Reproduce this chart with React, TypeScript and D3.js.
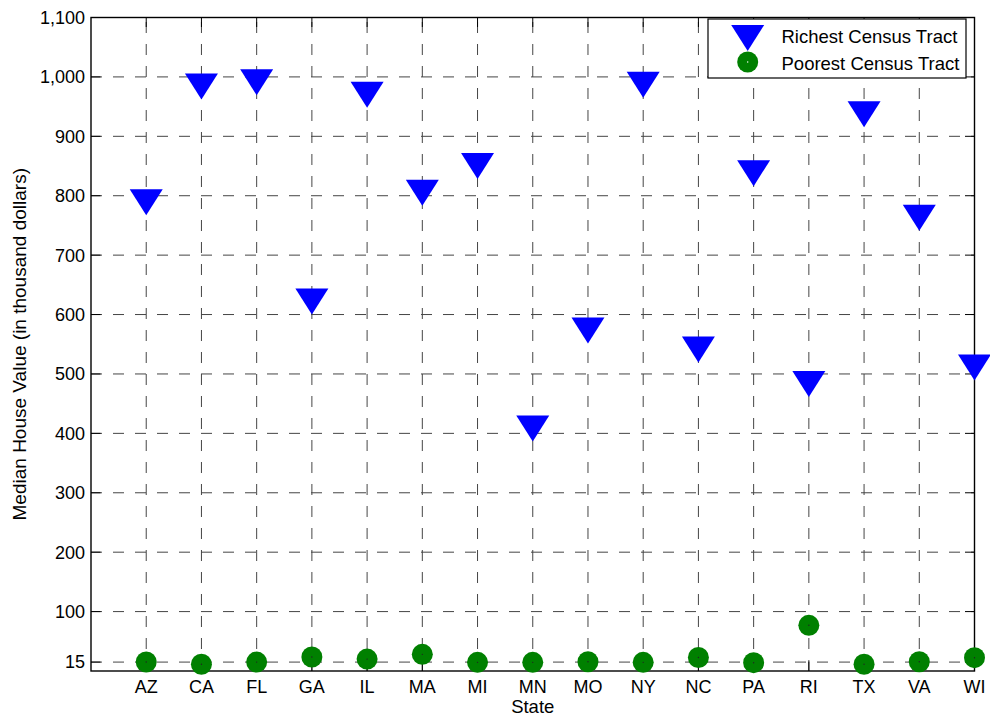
import React from "react";
import * as d3 from "d3";

const states = ["AZ", "CA", "FL", "GA", "IL", "MA", "MI", "MN", "MO", "NY", "NC", "PA", "RI", "TX", "VA", "WI"];
const richest = [789, 984, 991, 622, 970, 805, 850, 408, 573, 987, 541, 838, 483, 937, 763, 511];
const poorest = [15.1, 11.3, 15, 23.5, 20, 28, 14.6, 14.6, 15.6, 14.6, 22.7, 14, 76.9, 11.3, 15.6, 22.4];
const yTicks = [15, 100, 200, 300, 400, 500, 600, 700, 800, 900, 1000, 1100];
const seriesNames = ["Richest Census Tract", "Poorest Census Tract"];

const W = 990;
const H = 723;
const L = 91, R = 974.5, T = 17.5, B = 671;
const FONT = "'Liberation Sans', Arial, Helvetica, sans-serif";

export default function App() {
  const x = d3.scaleLinear().domain([0, states.length]).range([L, R]);
  const y = d3.scaleLinear().domain([0, 1100]).range([B, T]);
  const fmt = d3.format(",");
  const triW = 33, triH = 26;
  const tri = (cx: number, cy: number) =>
    `M${cx - triW / 2},${cy - triH / 2}L${cx + triW / 2},${cy - triH / 2}L${cx},${cy + triH / 2}Z`;
  const tick = 9.5;
  const gridColor = "#454545";
  const dash = "11,11";

  return (
    <div style={{ position: "fixed", left: 0, top: 0 }}>
      <svg width={W} height={H} style={{ display: "block", background: "#fff" }} fontFamily={FONT}>
        <rect x={0} y={0} width={W} height={H} fill="#fff" />
        {/* grid */}
        {yTicks.filter((t) => t < 1100).map((t) => (
          <line key={"gy" + t} x1={L} x2={R} y1={y(t)} y2={y(t)} stroke={gridColor} strokeWidth={1} strokeDasharray={dash} />
        ))}
        {states.slice(0, states.length - 1).map((s, i) => (
          <line key={"gx" + s} x1={x(i + 1)} x2={x(i + 1)} y1={B} y2={T} stroke={gridColor} strokeWidth={1} strokeDasharray={dash} />
        ))}
        {/* ticks */}
        {yTicks.map((t) => (
          <g key={"ty" + t}>
            <line x1={L} x2={L + tick} y1={y(t)} y2={y(t)} stroke="#000" strokeWidth={1} />
            <line x1={R} x2={R - tick} y1={y(t)} y2={y(t)} stroke="#000" strokeWidth={1} />
          </g>
        ))}
        {states.map((s, i) => (
          <g key={"tx" + s}>
            <line x1={x(i + 1)} x2={x(i + 1)} y1={B} y2={B - tick} stroke="#000" strokeWidth={1} />
            <line x1={x(i + 1)} x2={x(i + 1)} y1={T} y2={T + tick} stroke="#000" strokeWidth={1} />
          </g>
        ))}
        {/* axes box */}
        <rect x={L} y={T} width={R - L} height={B - T} fill="none" stroke="#000" strokeWidth={1.4} />
        {/* tick labels */}
        {yTicks.map((t) => (
          <text key={"ly" + t} x={85} y={y(t) + 6.4} textAnchor="end" fontSize={18} fill="#000">
            {fmt(t)}
          </text>
        ))}
        {states.map((s, i) => (
          <text key={"lx" + s} x={x(i + 1)} y={693} textAnchor="middle" fontSize={18} fill="#000">
            {s}
          </text>
        ))}
        <text x={(L + R) / 2} y={713} textAnchor="middle" fontSize={18.5} fill="#000">State</text>
        <text transform={`translate(26,${(T + B) / 2}) rotate(-90)`} textAnchor="middle" fontSize={19} fill="#000">
          Median House Value (in thousand dollars)
        </text>
        {/* markers */}
        {richest.map((v, i) => (
          <path key={"r" + i} d={tri(x(i + 1), y(v))} fill="#0000ff" />
        ))}
        {poorest.map((v, i) => (
          <g key={"p" + i}>
            <circle cx={x(i + 1)} cy={y(v)} r={10.5} fill="#008000" />
            <circle cx={x(i + 1)} cy={y(v)} r={0.7} fill="#222" />
          </g>
        ))}
        {/* legend */}
        <rect x={708} y={19} width={258} height={59} fill="#fff" stroke="#000" strokeWidth={1.2} />
        <path d={tri(747.7, 38)} fill="#0000ff" />
        <circle cx={747.7} cy={62} r={10.5} fill="#008000" />
        <circle cx={747.7} cy={62} r={0.7} fill="#fff" />
        <text x={781.5} y={43.3} fontSize={18.5} fill="#000">{seriesNames[0]}</text>
        <text x={781.5} y={70} fontSize={18.5} fill="#000">{seriesNames[1]}</text>
      </svg>
    </div>
  );
}
